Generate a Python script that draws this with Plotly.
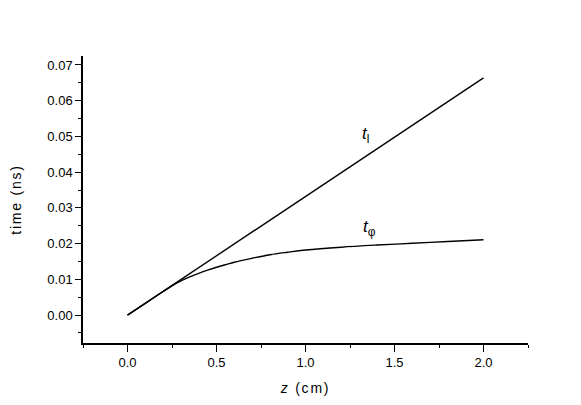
import plotly.graph_objects as go

z_l = [0.0, 2.0]
t_l = [0.0, 0.0664]

z_phi = [0.0, 0.1, 0.2, 0.25, 0.3, 0.35, 0.4, 0.45, 0.5, 0.55, 0.6, 0.7, 0.8, 0.9,
         1.0, 1.2, 1.4, 1.6, 1.8, 2.0]
t_phi = [0.0, 0.0033, 0.0066, 0.0082, 0.0096, 0.0107, 0.0117, 0.0126, 0.0134, 0.0141,
         0.0148, 0.0159, 0.0169, 0.0176, 0.0182, 0.0190, 0.0196, 0.0201, 0.0206, 0.0211]

x_ticks = [0.0, 0.5, 1.0, 1.5, 2.0]
x_ticklabels = ["0.0", "0.5", "1.0", "1.5", "2.0"]
y_ticks = [0.0, 0.01, 0.02, 0.03, 0.04, 0.05, 0.06, 0.07]
y_ticklabels = ["0.00", "0.01", "0.02", "0.03", "0.04", "0.05", "0.06", "0.07"]

FONT = "Liberation Sans, Arial, sans-serif"

fig = go.Figure()
fig.add_trace(go.Scatter(x=z_l, y=t_l, mode="lines",
                         line=dict(color="black", width=1.4), showlegend=False))
fig.add_trace(go.Scatter(x=z_phi, y=t_phi, mode="lines",
                         line=dict(color="black", width=1.4, shape="spline", smoothing=1.0),
                         showlegend=False))

fig.add_annotation(x=1.335, y=0.0505, text="<i>t</i><sub>l</sub>", showarrow=False,
                   font=dict(family=FONT, size=17, color="black"))
fig.add_annotation(x=1.36, y=0.0243, text="<i>t</i><sub>φ</sub>", showarrow=False,
                   font=dict(family=FONT, size=17, color="black"))

fig.update_layout(
    width=581, height=405,
    margin=dict(l=83, r=53, t=56, b=62),
    paper_bgcolor="white", plot_bgcolor="white",
    font=dict(family=FONT, color="black", size=13),
    xaxis=dict(
        range=[-0.25, 2.25], showgrid=False, zeroline=False, automargin=False,
        showline=True, linecolor="black", linewidth=1.5,
        tickmode="array", tickvals=x_ticks, ticktext=x_ticklabels,
        ticks="outside", ticklen=7, tickwidth=1.3, tickcolor="black",
        minor=dict(dtick=0.25, tick0=0, ticks="outside", ticklen=3, tickwidth=1.3,
                   tickcolor="black", showgrid=False),
        tickfont=dict(size=13),
        title=dict(text="<i>z</i> (cm)", font=dict(size=14), standoff=14),
    ),
    yaxis=dict(
        range=[-0.0078, 0.0725], showgrid=False, zeroline=False, automargin=False,
        showline=True, linecolor="black", linewidth=1.5,
        tickmode="array", tickvals=y_ticks, ticktext=y_ticklabels,
        ticks="outside", ticklen=6, tickwidth=1.3, tickcolor="black",
        minor=dict(dtick=0.005, tick0=0, ticks="outside", ticklen=3, tickwidth=1.3,
                   tickcolor="black", showgrid=False),
        tickfont=dict(size=13),
        title=dict(text="time (ns)", font=dict(size=14), standoff=22),
    ),
)

post = (
    "document.body.style.margin='0';document.body.style.padding='0';"
    "document.querySelectorAll('.xtitle, .ytitle').forEach(function(e){"
    "e.style.letterSpacing='1.8px';});"
)
fig.write_html("out.html", config={"displayModeBar": False}, post_script=post)
